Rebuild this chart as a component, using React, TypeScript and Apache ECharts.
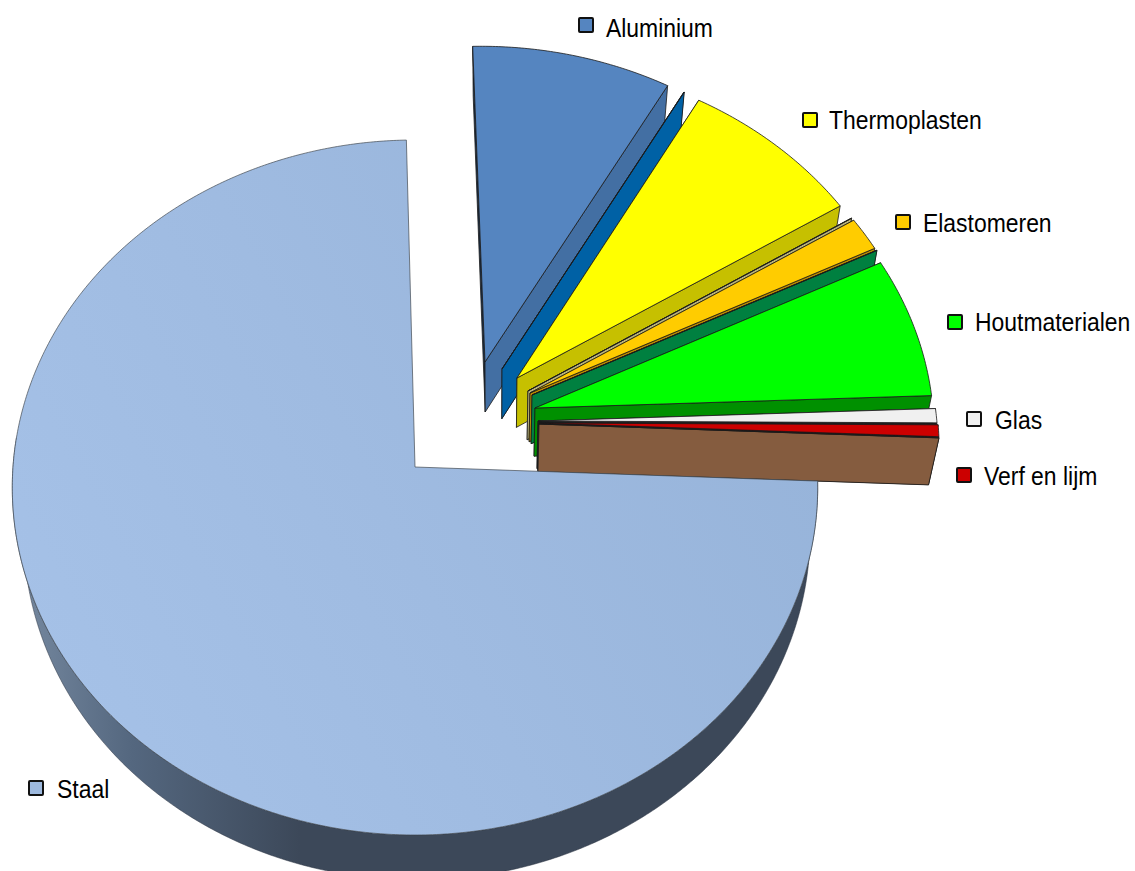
import React, { useEffect, useRef } from "react";
import * as echarts from "echarts";

// Data, clockwise from the top of the pie. Unnamed entries are the hair-thin slices without a legend entry.
const sliceNames = ["Aluminium", "", "Thermoplasten", "", "Elastomeren", "", "Houtmaterialen", "Glas", "Verf en lijm", "", "Staal"];
const sliceValues = [8.6, 0.01, 7.9, 0.01, 1.6, 0.01, 6.65, 0.67, 0.55, 0.01, 74.0];

// Styles
const topColors = ["#5585c0", "#0061a5", "#ffff00", "#c0bb88", "#ffcc00", "#008040", "#00ff00", "#f0f0f0", "#cc0000", "#855c3f", "#9db9de"];
const wallColors = ["#436fa3", "#0061a5", "#c6c000", "#b8b27a", "#b98a00", "#008040", "#009000", "#202020", "#202020", "#855c3f", "#3c4859"];
const sideColors = ["#1c3048", "#0061a5", "#c6c000", "#b8b27a", "#d9a800", "#008040", "#00a040", "#202020", "#202020", "#855c3f", "#3c4859"];

// Layout: how far each slice is pulled out of the pie, in pie-plane units (across, towards viewer)
const pullAcross = [0.1773, 0.2201, 0.2576, 0.2846, 0.2897, 0.2947, 0.3015, 0.3084, 0.3108, 0.3108, 0];
const pullNear = [-0.3087, -0.2878, -0.261, -0.2225, -0.2164, -0.2105, -0.1721, -0.1339, -0.128, -0.125, 0];

// Layout of the labels: swatch left, swatch centre y, text left, text centre y
const legendNames = ["Aluminium", "Thermoplasten", "Elastomeren", "Houtmaterialen", "Glas", "Verf en lijm", "Staal"];
const legendSwatchX = [578, 802, 895, 947, 966, 956, 28];
const legendSwatchY = [25, 120, 222, 322, 419, 475, 788];
const legendTextX = [606, 829, 923, 975, 995, 984, 57];
const legendTextY = [28, 120, 223, 322, 420, 476, 789];

const START_DEG = -1.3;
const WALL_END_DEG = 275;
const CX = 415, CY = 467, A = 346.3, B = 402, K = 0.059;
const VP_X = 494;

const project = (u: number, t: number): number[] => {
  const d = 1 - K * t;
  return [CX + (B * u) / d, CY + (A * t) / d];
};
const extrude = (p: number[]): number[] => {
  const depth = Math.min(50, Math.max(45, 50 - (p[1] - 362) * 0.04));
  return [p[0] - 0.0235 * (p[0] - VP_X), p[1] + depth];
};

const total = sliceValues.reduce((a, b) => a + b, 0);

function renderSlice(params: any, api: any) {
  const i = params.dataIndex;
  const value = api.value(0);
  let before = 0;
  for (let j = 0; j < i; j++) before += sliceValues[j];
  const a0 = START_DEG + (before / total) * 360;
  const a1 = a0 + (value / total) * 360;
  const eu = pullAcross[i], et = pullNear[i];
  const apex = project(eu, et);
  const arc: number[][] = [];
  const wallArc: number[][] = [];
  const n = Math.max(2, Math.ceil(a1 - a0) * 2);
  for (let s = 0; s <= n; s++) {
    const deg = a0 + ((a1 - a0) * s) / n;
    const th = (deg * Math.PI) / 180;
    const p = project(eu + Math.sin(th), et - Math.cos(th));
    arc.push(p);
    if (deg <= WALL_END_DEG) wallArc.push(p);
  }
  const first = arc[0], last = arc[arc.length - 1];
  const edge = { stroke: "#1a1a1a", lineWidth: 0.8, lineJoin: "round" };
  const children: any[] = [];
  const isMain = sliceNames[i] === "Staal";
  if (isMain) {
    const wallPts = wallArc.concat(wallArc.map(extrude).reverse());
    children.push({
      type: "polygon",
      shape: { points: wallPts },
      style: {
        stroke: "#2a3340",
        lineWidth: 0.5,
        lineJoin: "round",
        fill: {
          type: "linear", x: 20, y: 0, x2: 300, y2: 0, global: true,
          colorStops: [
            { offset: 0, color: "#75889f" },
            { offset: 0.4, color: "#54677f" },
            { offset: 1, color: "#3c4859" },
          ],
        },
      },
    });
    children.push({
      type: "polygon",
      shape: { points: [apex, ...arc] },
      style: {
        stroke: "#444a52",
        lineWidth: 0.7,
        lineJoin: "round",
        fill: {
          type: "linear", x: 50, y: 700, x2: 800, y2: 300, global: true,
          colorStops: [
            { offset: 0, color: "#a5c1e7" },
            { offset: 0.45, color: "#9fbbe1" },
            { offset: 1, color: "#96b3d9" },
          ],
        },
      },
    });
  } else {
    children.push({
      type: "polygon",
      shape: { points: [first, apex, extrude(apex), extrude(first)] },
      style: { ...edge, fill: sideColors[i] },
    });
    children.push({
      type: "polygon",
      shape: { points: [apex, last, extrude(last), extrude(apex)] },
      style: { ...edge, fill: wallColors[i] },
    });
    children.push({
      type: "polygon",
      shape: { points: [apex, ...arc] },
      style: { ...edge, fill: topColors[i] },
    });
  }
  return { type: "group", children };
}

function legendGraphics() {
  const items: any[] = [];
  legendNames.forEach((name, i) => {
    const idx = sliceNames.indexOf(name);
    items.push({
      type: "rect",
      shape: { x: legendSwatchX[i] + 1, y: legendSwatchY[i] - 7, width: 14, height: 14, r: 1 },
      style: { fill: topColors[idx], stroke: "#111111", lineWidth: 2 },
    });
    items.push({
      type: "text",
      x: legendTextX[i],
      y: legendTextY[i],
      scaleX: 0.917,
      style: {
        text: name,
        fill: "#000000",
        font: '25px "Liberation Sans", Arial, sans-serif',
        textAlign: "left",
        textVerticalAlign: "middle",
      },
    });
  });
  return items;
}

export default function App() {
  const ref = useRef<HTMLDivElement>(null);
  useEffect(() => {
    document.body.style.margin = "0";
    const chart = echarts.init(ref.current!, undefined, { renderer: "svg" });
    chart.setOption({
      animation: false,
      backgroundColor: "#ffffff",
      graphic: { elements: legendGraphics() },
      series: [
        {
          type: "custom",
          coordinateSystem: "none",
          silent: true,
          clip: false,
          renderItem: renderSlice,
          data: sliceValues.map((v, i) => ({ name: sliceNames[i], value: [v] })),
        },
      ],
    });
    return () => chart.dispose();
  }, []);
  return <div ref={ref} style={{ width: 1135, height: 871, overflow: "hidden" }} />;
}
